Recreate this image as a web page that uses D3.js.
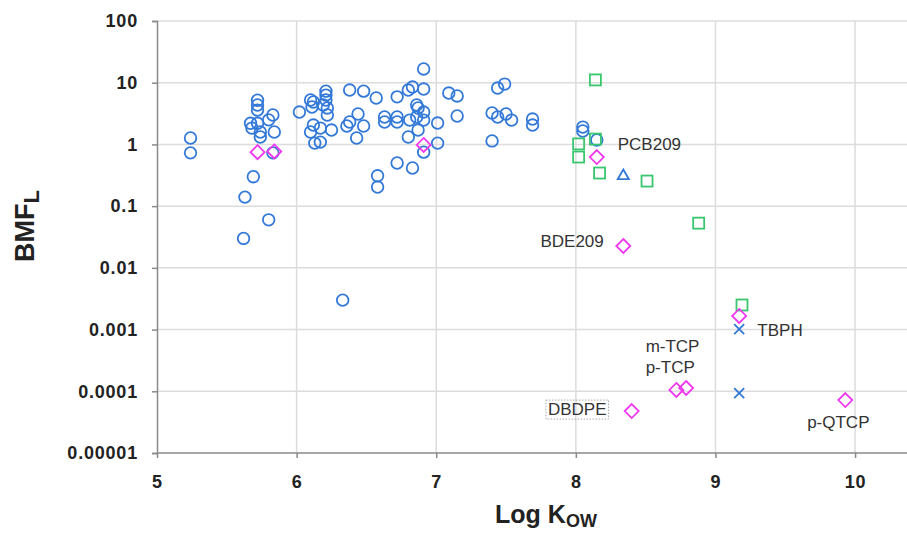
<!DOCTYPE html>
<html>
<head>
<meta charset="utf-8">
<script src="https://cdn.jsdelivr.net/npm/d3@7"></script>
<style>
  body { margin: 0; background: #fff; }
  svg { font-family: 'Liberation Sans', Arial, sans-serif; }
</style>
</head>
<body>
<svg id="chart" width="907" height="535"></svg>
<script>
// Log Kow vs BMF_L
const circlePts = [
  [5.24, 1.27], [5.24, 0.73],
  [5.72, 5.2], [5.72, 4.35], [5.72, 3.6], [5.83, 3.0], [5.80, 2.5], [5.67, 2.2],
  [5.72, 2.2], [5.68, 1.84], [5.74, 1.59], [5.84, 1.59], [5.74, 1.32], [5.83, 0.73],
  [5.69, 0.30], [5.63, 0.14], [5.80, 0.06], [5.62, 0.030],
  [6.02, 3.35], [6.10, 5.25], [6.12, 4.87], [6.11, 4.04], [6.21, 7.3], [6.21, 6.3],
  [6.21, 5.25], [6.19, 4.35], [6.22, 3.9], [6.22, 3.0], [6.12, 2.06], [6.10, 1.59],
  [6.17, 1.84], [6.25, 1.71], [6.13, 1.05], [6.17, 1.09],
  [6.38, 7.6], [6.48, 7.3], [6.57, 5.65], [6.44, 3.11], [6.38, 2.31], [6.36, 1.99],
  [6.48, 1.99], [6.43, 1.27], [6.63, 2.78], [6.63, 2.31], [6.72, 2.78], [6.72, 2.31],
  [6.72, 5.9], [6.80, 7.6], [6.83, 8.5], [6.81, 2.48], [6.80, 1.32],
  [6.91, 16.7], [6.91, 7.9], [6.86, 4.35], [6.87, 3.9], [6.91, 3.35], [6.86, 2.78],
  [6.91, 2.48], [6.87, 1.71], [7.01, 2.22], [7.01, 1.05], [6.91, 0.75],
  [6.72, 0.50], [6.83, 0.415], [6.58, 0.31], [6.58, 0.204], [6.33, 0.0030],
  [7.09, 6.8], [7.15, 6.1], [7.15, 2.89], [7.44, 8.2], [7.49, 9.5], [7.40, 3.23],
  [7.44, 2.78], [7.50, 3.11], [7.54, 2.48], [7.69, 2.58], [7.69, 2.06], [7.40, 1.14],
  [8.05, 1.91], [8.05, 1.65], [8.15, 1.18]
];
const squarePts = [
  [8.02, 1.02], [8.02, 0.625], [8.14, 11.1], [8.14, 1.22], [8.17, 0.344],
  [8.51, 0.255], [8.88, 0.053], [9.19, 0.0025]
];
const diamondPts = [
  [5.72, 0.75], [5.84, 0.77], [6.91, 0.98], [8.15, 0.625], [8.34, 0.0226],
  [9.17, 0.00166], [8.72, 0.000105], [8.79, 0.000113], [8.40, 0.0000478], [9.93, 0.000072]
];
const trianglePts = [[8.34, 0.32]];
const crossPts = [[9.17, 0.00102], [9.17, 0.0000935]];

const xTicks = [5, 6, 7, 8, 9, 10];
const yTicks = [1e-5, 1e-4, 1e-3, 1e-2, 0.1, 1, 10, 100];
const yTickLabels = ['0.00001', '0.0001', '0.001', '0.01', '0.1', '1', '10', '100'];

// compound labels: text, Log Kow, BMF_L, anchor
const labels = [
  ['PCB209', 8.30, 1.0, 'start'],
  ['BDE209', 8.20, 0.0275, 'end'],
  ['TBPH', 9.30, 0.001, 'start'],
  ['m-TCP', 8.50, 0.00054, 'start'],
  ['p-TCP', 8.50, 0.000247, 'start'],
  ['DBDPE', 8.22, 0.0000514, 'end'],
  ['p-QTCP', 9.88, 0.0000317, 'middle']
];

const svg = d3.select('#chart');
const plot = {left: 157, top: 21, right: 907, bottom: 453};

const x = d3.scaleLinear().domain([5, 10.372]).range([plot.left, plot.right]);
const y = d3.scaleLog().domain([1e-5, 100]).range([plot.bottom, plot.top]);

const blue = '#3379d8', green = '#38c66e', magenta = '#ee38ee';

// grid
svg.append('g').selectAll('line')
  .data(xTicks.slice(1))
  .join('line')
  .attr('x1', d => x(d)).attr('x2', d => x(d))
  .attr('y1', plot.top).attr('y2', plot.bottom)
  .style('stroke', '#dcdcdc').style('stroke-width', 1.5);

svg.append('g').selectAll('line')
  .data(yTicks.slice(1))
  .join('line')
  .attr('x1', plot.left).attr('x2', plot.right)
  .attr('y1', d => y(d)).attr('y2', d => y(d))
  .style('stroke', '#dcdcdc').style('stroke-width', 1.5);

// axes
const yAxis = svg.append('g')
  .attr('transform', `translate(${plot.left}, 0)`)
  .call(d3.axisLeft(y).tickValues(yTicks)
    .tickFormat((d, i) => yTickLabels[i]).tickSize(5).tickPadding(14));

const xAxis = svg.append('g')
  .attr('transform', `translate(0, ${plot.bottom})`)
  .call(d3.axisBottom(x).tickValues(xTicks).tickFormat(d3.format('d')).tickSize(5).tickPadding(17));

xAxis.select('.domain').attr('d', `M${plot.left},0H${plot.right}`);

[xAxis, yAxis].forEach(a => {
  a.selectAll('.domain, line').style('stroke', '#8a8a8a').style('stroke-width', 1.5);
  a.selectAll('text')
    .style('font-family', "'Liberation Sans', Arial, sans-serif")
    .style('font-size', '18px')
    .style('font-weight', 'bold')
    .style('letter-spacing', '0.8px')
    .style('fill', '#222');
});

// axis titles
const yTitle = svg.append('text')
  .attr('transform', 'translate(34, 226) rotate(-90)')
  .style('text-anchor', 'middle')
  .style('font-size', '27px')
  .style('font-weight', 'bold')
  .style('fill', '#222')
  .text('BMF');
yTitle.append('tspan').attr('dy', 5).style('font-size', '22px').text('L');

const xTitle = svg.append('text')
  .attr('x', 546).attr('y', 523)
  .style('text-anchor', 'middle')
  .style('font-size', '25px')
  .style('fill', '#222')
  .style('font-weight', 'bold')
  .text('Log K');
xTitle.append('tspan').attr('dy', 4).style('font-size', '18px').text('OW');

// marks
const marks = svg.append('g').style('fill', 'none').style('stroke-width', 1.8);

marks.selectAll('.circ')
  .data(circlePts)
  .join('circle')
  .attr('class', 'circ')
  .attr('cx', d => x(d[0])).attr('cy', d => y(d[1]))
  .attr('r', 5.8)
  .style('stroke', blue);

marks.selectAll('.sq')
  .data(squarePts)
  .join('rect')
  .attr('class', 'sq')
  .attr('x', d => x(d[0]) - 5.5).attr('y', d => y(d[1]) - 5.5)
  .attr('width', 11).attr('height', 11)
  .style('stroke', green);

marks.selectAll('.tri')
  .data(trianglePts)
  .join('path')
  .attr('class', 'tri')
  .attr('d', d3.symbol(d3.symbolTriangle2, 90))
  .attr('transform', d => `translate(${x(d[0])}, ${y(d[1]) + 1})`)
  .style('stroke', blue);

marks.selectAll('.dia')
  .data(diamondPts)
  .join('path')
  .attr('class', 'dia')
  .attr('d', 'M0,-7L7,0L0,7L-7,0Z')
  .attr('transform', d => `translate(${x(d[0])}, ${y(d[1])})`)
  .style('stroke', magenta);

marks.selectAll('.cross')
  .data(crossPts)
  .join('path')
  .attr('class', 'cross')
  .attr('d', 'M-5,-5L5,5M-5,5L5,-5')
  .attr('transform', d => `translate(${x(d[0])}, ${y(d[1])})`)
  .style('stroke', blue);

// compound labels
const labelGroup = svg.append('g');
labelGroup.selectAll('text')
  .data(labels)
  .join('text')
  .attr('x', d => x(d[1])).attr('y', d => y(d[2]))
  .attr('dy', '0.35em')
  .style('text-anchor', d => d[3])
  .style('font-size', '17px')
  .style('fill', '#333')
  .text(d => d[0]);

// dotted box round DBDPE
const dbdpe = labelGroup.selectAll('text').filter(d => d[0] === 'DBDPE').node().getBBox();
labelGroup.append('rect')
  .attr('x', dbdpe.x - 2).attr('y', dbdpe.y)
  .attr('width', dbdpe.width + 4).attr('height', dbdpe.height)
  .style('fill', 'none')
  .style('stroke', '#aaa')
  .style('stroke-dasharray', '1.5,1.5');
</script>
</body>
</html>
